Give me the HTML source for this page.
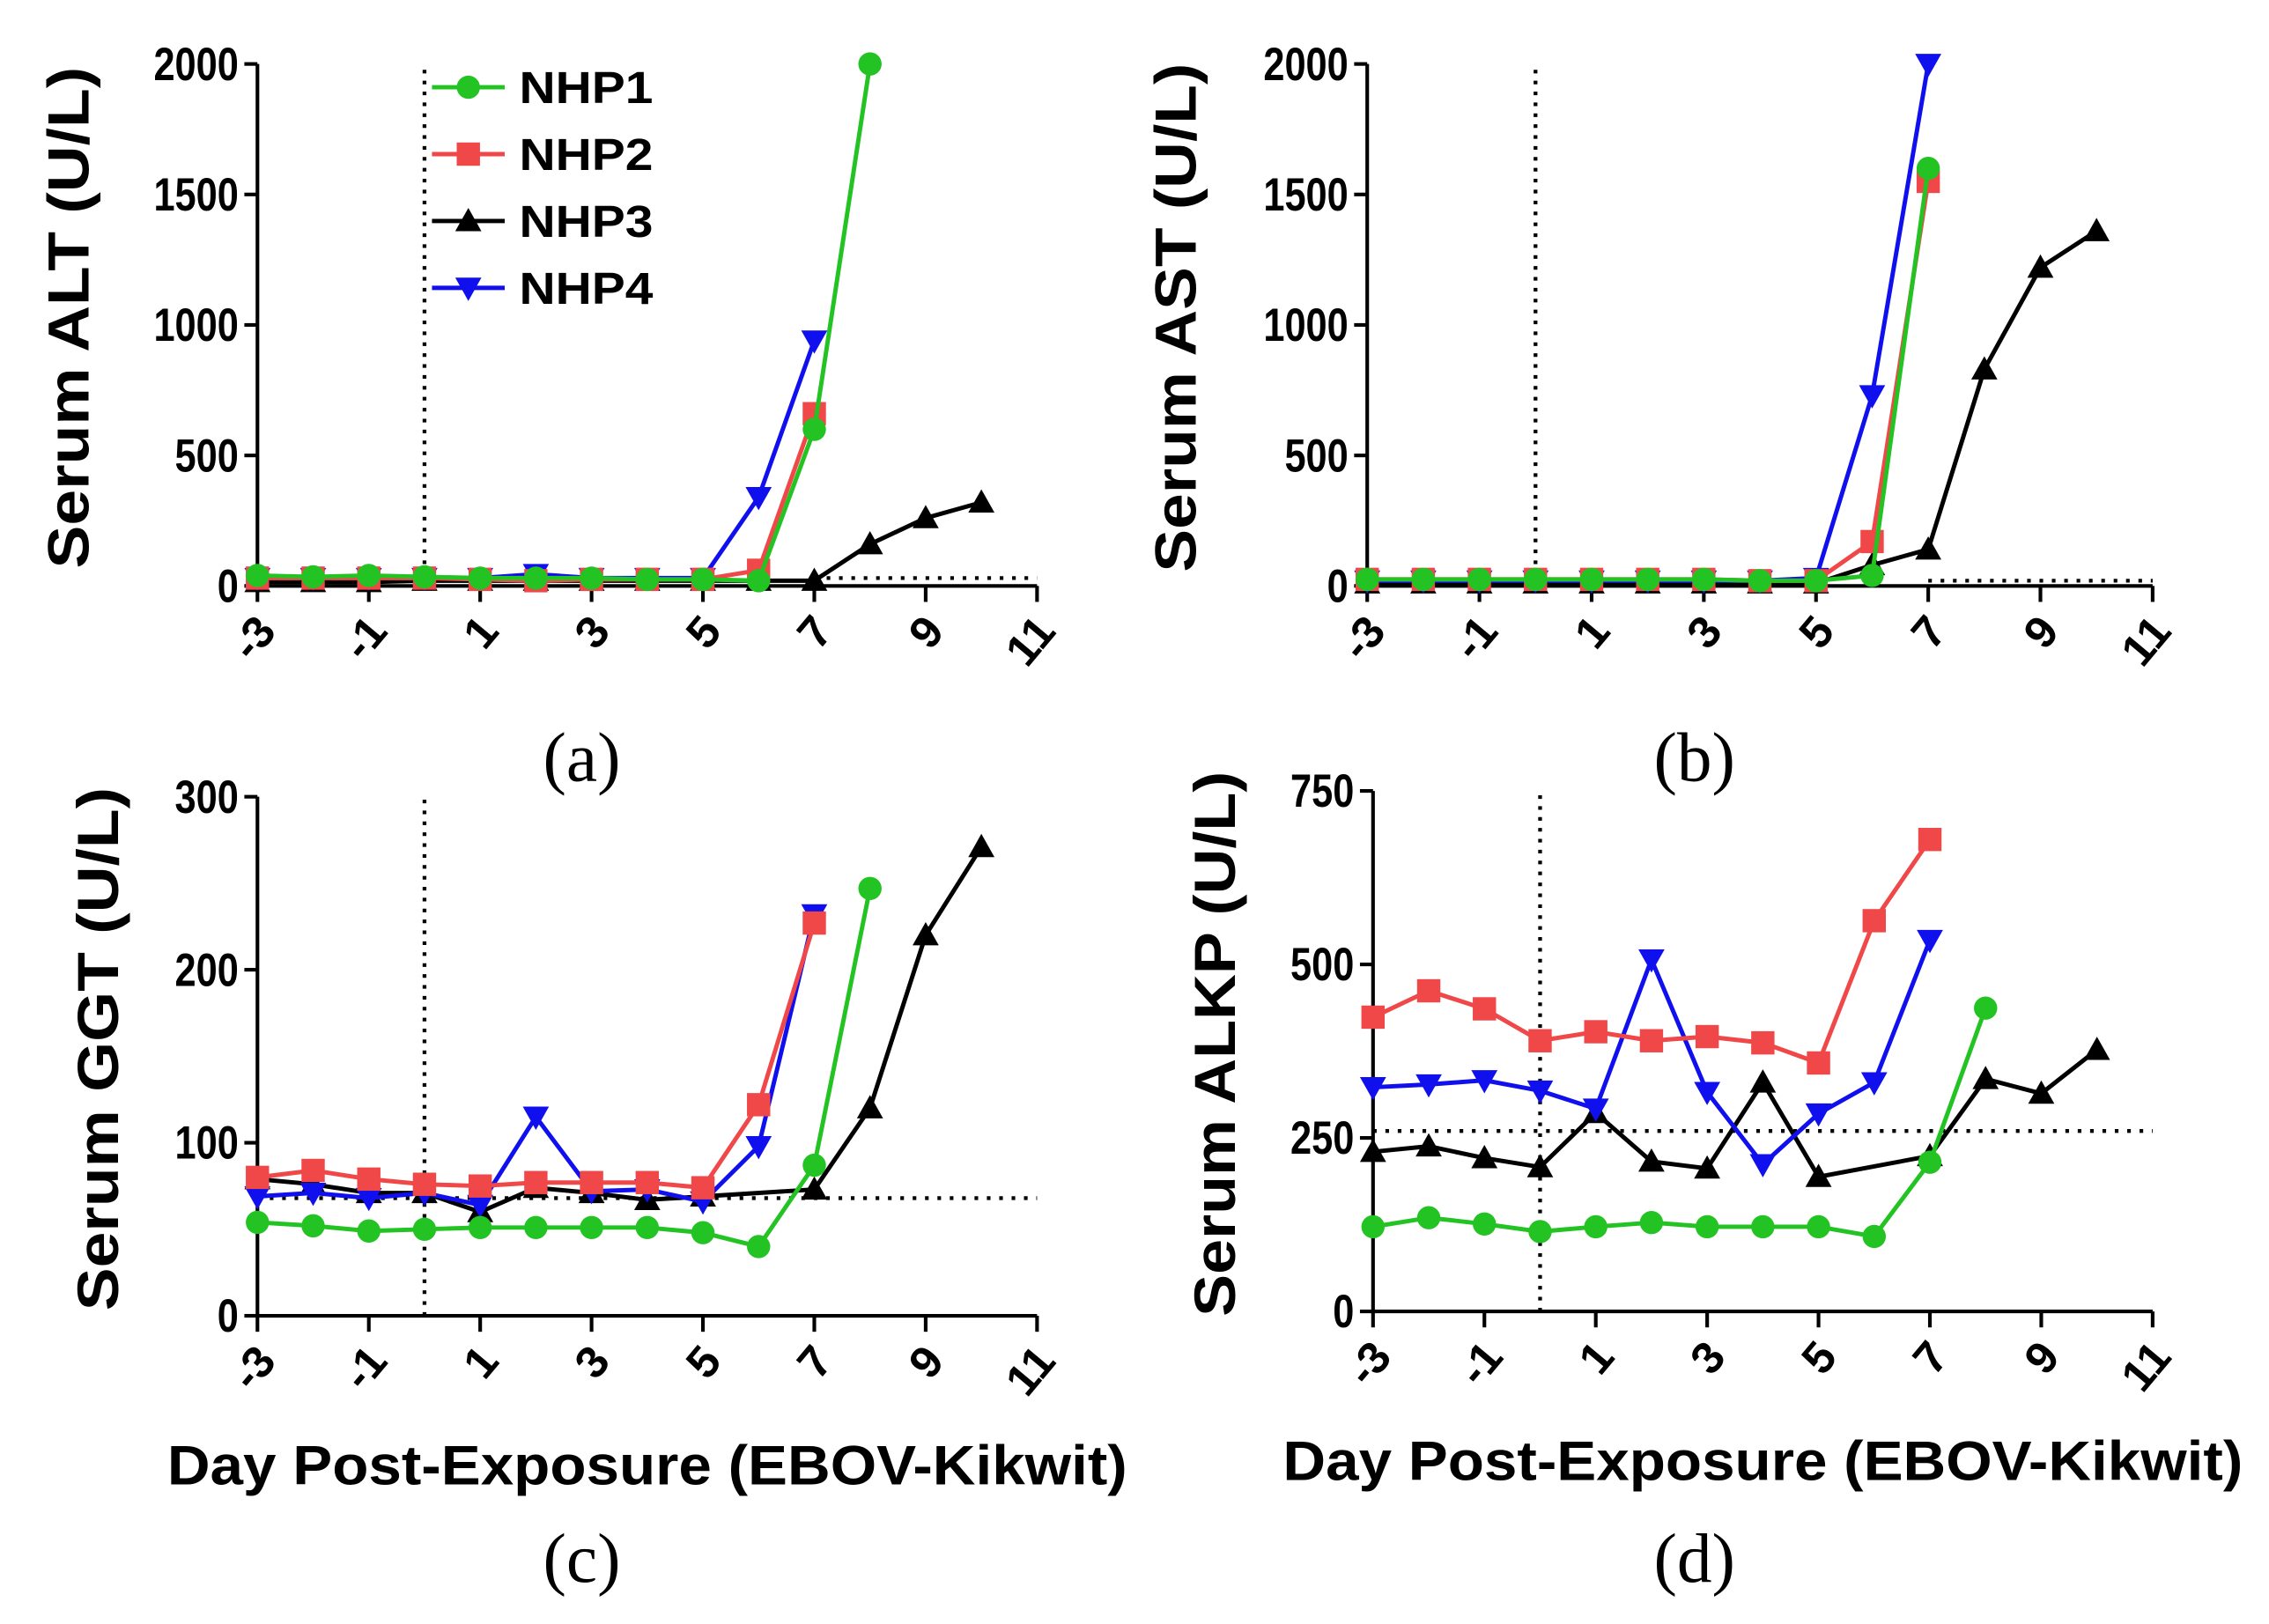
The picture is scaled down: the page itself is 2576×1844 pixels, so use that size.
<!DOCTYPE html>
<html><head><meta charset="utf-8"><style>
html,body{margin:0;padding:0;background:#fff;}
svg{display:block;}
text{font-family:"Liberation Sans",sans-serif;}
text.serif{font-family:"Liberation Serif",serif;}
</style></head><body>
<svg id="fig" width="2576" height="1844" viewBox="0 0 1560 1117" preserveAspectRatio="none" xmlns="http://www.w3.org/2000/svg"></svg>
<script>
const days = [-3,-2,-1,0,1,2,3,4,5,6,7,8,9,10];
const xTicks = [-3,-1,1,3,5,7,9,11];
const seriesNames = ["NHP1","NHP2","NHP3","NHP4"];
const seriesColors = ["#22c322","#f04848","#000000","#1010ee"];
const altNHP1 = [40,35,40,35,30,30,30,25,25,20,600,2000];
const altNHP2 = [30,30,30,30,25,20,25,25,25,60,660];
const altNHP3 = [15,15,15,20,20,20,20,20,20,20,20,160,260,320];
const altNHP4 = [30,30,30,30,30,45,30,30,30,340,940];
const astNHP1 = [25,25,25,25,25,25,25,20,20,40,1600];
const astNHP2 = [25,25,25,25,25,25,25,20,20,170,1550];
const astNHP3 = [10,10,10,10,10,10,10,10,10,80,140,830,1220,1360];
const astNHP4 = [20,20,20,20,20,20,20,20,30,730,2000];
const ggtNHP1 = [54,52,49,50,51,51,51,51,48,40,87,247];
const ggtNHP2 = [80,84,79,76,75,77,77,77,74,122,227];
const ggtNHP3 = [79,76,71,71,60,74,71,67,69,null,73,120,220,271];
const ggtNHP4 = [69,71,68,71,64,115,72,73,66,98,232];
const alkpNHP1 = [122,135,126,115,122,128,122,122,122,108,215,437];
const alkpNHP2 = [424,462,436,390,403,390,396,387,358,563,680];
const alkpNHP3 = [230,238,221,208,286,216,206,330,194,null,224,335,314,377];
const alkpNHP4 = [323,327,333,318,292,507,316,212,285,330,535];
const altTicks = [0,500,1000,1500,2000];
const astTicks = [0,500,1000,1500,2000];
const ggtTicks = [0,100,200,300];
const alkpTicks = [0,250,500,750];
const refALT = 30, refAST = 20, refGGT = 68, refALKP = 260;

const NS="http://www.w3.org/2000/svg";
const svg=document.getElementById('fig');
function el(tag,attrs,parent){const e=document.createElementNS(NS,tag);for(const k in attrs)e.setAttribute(k,attrs[k]);(parent||svg).appendChild(e);return e;}

const panels=[
 {id:"a",title:"Serum ALT (U/L)",tl:345,tx:47,x0:177,x1:713,y0:403,y1:44,max:2000,ticks:altTicks,data:[altNHP1,altNHP2,altNHP3,altNHP4],ref:refALT,refFrom:7,letter:"(a)",lx:400,ly:537,xlab:false},
 {id:"b",title:"Serum AST (U/L)",tl:350,tx:808,x0:940,x1:1480,y0:403,y1:44,max:2000,ticks:astTicks,data:[astNHP1,astNHP2,astNHP3,astNHP4],ref:refAST,refFrom:7,letter:"(b)",lx:1165,ly:537,xlab:false},
 {id:"c",title:"Serum GGT (U/L)",tl:360,tx:67,x0:177,x1:713,y0:905,y1:548,max:300,ticks:ggtTicks,data:[ggtNHP1,ggtNHP2,ggtNHP3,ggtNHP4],ref:refGGT,refFrom:-3,letter:"(c)",lx:400,ly:1088,xlab:true},
 {id:"d",title:"Serum ALKP (U/L)",tl:375,tx:835,x0:944,x1:1480,y0:902,y1:544,max:750,ticks:alkpTicks,data:[alkpNHP1,alkpNHP2,alkpNHP3,alkpNHP4],ref:refALKP,refFrom:-3,letter:"(d)",lx:1165,ly:1088,xlab:true}
];

function marker(g,i,x,y){
  const c=seriesColors[i];
  let m;
  if(i===0) m=el('circle',{cx:x,cy:y,r:8,fill:c},g);
  else if(i===1) m=el('rect',{x:x-8,y:y-8,width:16,height:16,fill:c},g);
  else if(i===2) m=el('polygon',{points:`${x},${y-9} ${x-9},${y+7} ${x+9},${y+7}`,fill:c},g);
  else m=el('polygon',{points:`${x},${y+9} ${x-9},${y-7} ${x+9},${y-7}`,fill:c},g);
  return m;
}

panels.forEach(p=>{
  const g=el('g',{});
  
  
  const X=d=>p.x0+(d+3)/14*(p.x1-p.x0);
  const Y=v=>p.y0-v/p.max*(p.y0-p.y1);
  const vl=el('line',{x1:X(0),x2:X(0),y1:p.y0,y2:p.y1,stroke:'#000','stroke-width':2.6,'stroke-dasharray':'2.5 5'},g);
  
  
  const hl=el('line',{x1:X(p.refFrom),x2:p.x1,y1:Y(p.ref),y2:Y(p.ref),stroke:'#000','stroke-width':2.6,'stroke-dasharray':'2.5 6'},g);
  
  
  const ya=el('line',{x1:p.x0,x2:p.x0,y1:p.y0,y2:p.y1,stroke:'#000','stroke-width':2.5},g);
  
  
  const xa=el('line',{x1:p.x0,x2:p.x1,y1:p.y0,y2:p.y0,stroke:'#000','stroke-width':2.5},g);
  
  
  p.ticks.forEach(t=>{
    el('line',{x1:p.x0-9,x2:p.x0,y1:Y(t),y2:Y(t),stroke:'#000','stroke-width':2.5},g);
    const tx=el('text',{x:0,y:0,'text-anchor':'end','font-size':32,'font-weight':'bold',transform:`translate(${p.x0-13} ${Y(t)+11}) scale(0.82 1)`},g);
    tx.textContent=t;
    
    
  });
  xTicks.forEach(t=>{
    el('line',{x1:X(t),x2:X(t),y1:p.y0,y2:p.y0+11,stroke:'#000','stroke-width':2.5},g);
    const tx=el('text',{x:0,y:0,'text-anchor':'end','font-size':31,'font-weight':'bold',transform:`translate(${X(t)+14} ${p.y0+32}) rotate(-50)`},g);
    tx.textContent=t;
    
    
  });
  const yt=el('text',{x:0,y:0,'text-anchor':'middle','font-size':40,'font-weight':'bold',textLength:p.tl,lengthAdjust:'spacingAndGlyphs',transform:`translate(${p.tx+14} ${(p.y0+p.y1)/2-5}) rotate(-90)`},g);
  yt.textContent=p.title;
  
  
  if(p.xlab){
    const xt=el('text',{x:(p.x0+p.x1)/2,y:p.y0+116,'text-anchor':'middle','font-size':38,'font-weight':'bold',textLength:660,lengthAdjust:'spacingAndGlyphs'},g);
    xt.textContent='Day Post-Exposure (EBOV-Kikwit)';
    
    
  }
  const lt=el('text',{x:p.lx,y:p.ly,'text-anchor':'middle','font-size':48,'class':'serif'},g);
  lt.textContent=p.letter;
  
  
  [2,3,1,0].forEach(i=>{
    const vals=p.data[i];
    const sg=el('g',{},g);
    
    
    const pts=[];
    vals.forEach((v,k)=>{if(v!==null)pts.push([X(days[k]),Y(v)]);});
    const pl=el('polyline',{points:pts.map(q=>q.join(',')).join(' '),fill:'none',stroke:seriesColors[i],'stroke-width':3},sg);
    
    
    pts.forEach(q=>{
      const m=marker(sg,i,q[0],q[1]);
      
      
    });
  });
});

const lg=el('g',{});


seriesNames.forEach((n,i)=>{
  const y=60+i*46;
  const eg=el('g',{},lg);
  
  
  el('line',{x1:297,x2:347,y1:y,y2:y,stroke:seriesColors[i],'stroke-width':3},eg);
  marker(eg,i,322,y);
  const t=el('text',{x:357,y:y+11,'font-size':31,'font-weight':'bold',textLength:92,lengthAdjust:'spacingAndGlyphs'},eg);
  t.textContent=n;
});
</script>
</body></html>
